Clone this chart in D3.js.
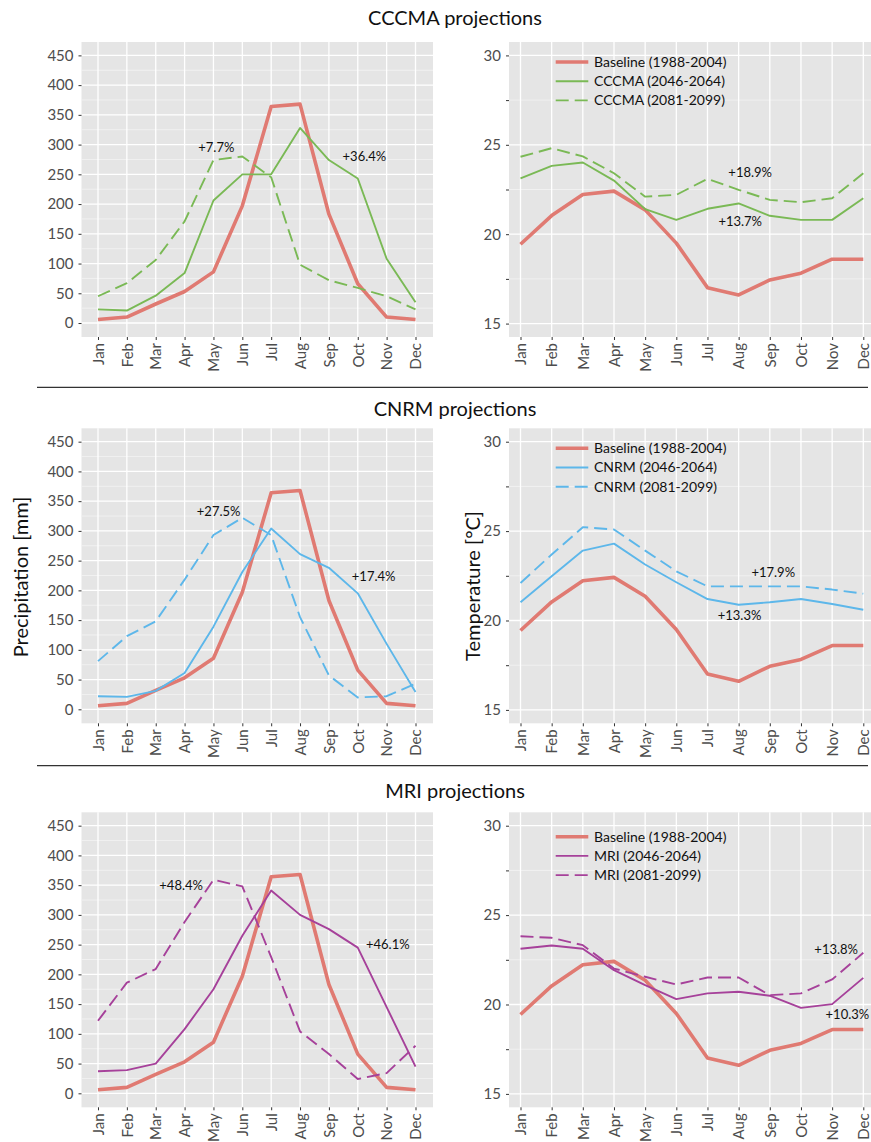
<!DOCTYPE html>
<html>
<head>
<meta charset="utf-8">
<script src="https://cdn.jsdelivr.net/npm/d3@7"></script>
<style>
  body { margin: 0; background: #fff; }
  text { font-family: Lato, "Open Sans", sans-serif; }
</style>
</head>
<body>
<script>
// ---- data ----
var months = ["Jan", "Feb", "Mar", "Apr", "May", "Jun", "Jul", "Aug", "Sep", "Oct", "Nov", "Dec"];

var precipBaseline = [6, 10, 32, 53, 86, 197, 364, 368, 183, 66, 10, 6];
var tempBaseline = [19.44, 21.04, 22.22, 22.41, 21.36, 19.5, 17.01, 16.6, 17.44, 17.82, 18.6, 18.6];

var precipCccmaMid = [23, 21, 46, 84, 206, 250, 250, 328, 274, 243, 108, 35];
var precipCccmaEnd = [45, 67, 106, 171, 274, 280, 245, 98, 72, 59, 45, 23];
var tempCccmaMid = [23.12, 23.82, 24.01, 23.0, 21.4, 20.8, 21.42, 21.72, 21.03, 20.8, 20.8, 22.01];
var tempCccmaEnd = [24.33, 24.81, 24.35, 23.41, 22.1, 22.2, 23.1, 22.48, 21.92, 21.79, 22.01, 23.41];

var precipCnrmMid = [22, 21, 31, 61, 139, 231, 304, 261, 238, 195, 110, 29];
var precipCnrmEnd = [81, 123, 148, 218, 293, 322, 293, 155, 57, 20, 22, 43];
var tempCnrmMid = [21.02, 22.47, 23.91, 24.3, 23.13, 22.14, 21.2, 20.88, 21.02, 21.2, 20.92, 20.6];
var tempCnrmEnd = [22.1, 23.69, 25.22, 25.09, 23.91, 22.75, 21.91, 21.91, 21.91, 21.91, 21.73, 21.5];

var precipMriMid = [37, 39, 50, 108, 175, 265, 341, 300, 276, 245, 145, 45];
var precipMriEnd = [122, 186, 209, 288, 359, 348, 229, 104, 66, 24, 34, 80];
var tempMriMid = [23.12, 23.3, 23.12, 21.92, 21.08, 20.3, 20.62, 20.71, 20.49, 19.81, 20.02, 21.49];
var tempMriEnd = [23.82, 23.73, 23.32, 22.01, 21.55, 21.12, 21.51, 21.51, 20.52, 20.62, 21.4, 22.89];

// change labels: [month index (fractional), value, text]
var notesCccmaPrecip = [[4.1, 295, "+7.7%"], [9.23, 280, "+36.4%"]];
var notesCccmaTemp = [[7.37, 23.45, "+18.9%"], [7.05, 20.71, "+13.7%"]];
var notesCnrmPrecip = [[4.18, 333, "+27.5%"], [9.55, 223, "+17.4%"]];
var notesCnrmTemp = [[8.11, 22.71, "+17.9%"], [7.03, 20.27, "+13.3%"]];
var notesMriPrecip = [[2.88, 349, "+48.4%"], [10.04, 250, "+46.1%"]];
var notesMriTemp = [[10.13, 23.1, "+13.8%"], [10.49, 19.44, "+10.3%"]];

var precipTicks = [0, 50, 100, 150, 200, 250, 300, 350, 400, 450];
var precipMinor = [25, 75, 125, 175, 225, 275, 325, 375, 425];
var tempTicks = [15, 17.5, 20, 22.5, 25, 27.5, 30];
var tempMajor = [15, 20, 25, 30];

var models = ["CCCMA", "CNRM", "MRI"];
var modelColors = ["#7ab955", "#5db7ea", "#a6419a"];

var W = 871, H = 1142;
var baseColor = "#e07a72";

var svg = d3.select("body").append("svg")
    .attr("width", W)
    .attr("height", H);

var rows = [
    { model: 0, titleY: 25, top: 42, pMid: precipCccmaMid, pEnd: precipCccmaEnd, tMid: tempCccmaMid, tEnd: tempCccmaEnd, pNotes: notesCccmaPrecip, tNotes: notesCccmaTemp, legY: 20 },
    { model: 1, titleY: 416, top: 428.3, pMid: precipCnrmMid, pEnd: precipCnrmEnd, tMid: tempCnrmMid, tEnd: tempCnrmEnd, pNotes: notesCnrmPrecip, tNotes: notesCnrmTemp, legY: 20 },
    { model: 2, titleY: 798, top: 812.3, pMid: precipMriMid, pEnd: precipMriEnd, tMid: tempMriMid, tEnd: tempMriEnd, pNotes: notesMriPrecip, tNotes: notesMriTemp, legY: 24.4 }
];

var panelH = 295;
var clipN = 0;

function drawPanel(cfg) {
    var g = svg.append("g");
    var x = d3.scalePoint().domain(months).range([cfg.mx0, cfg.mx1]);
    var xNum = d3.scaleLinear().domain([0, 11]).range([cfg.mx0, cfg.mx1]);
    var y = d3.scaleLinear().domain(cfg.yDomain).range([cfg.top + panelH, cfg.top]);

    g.append("rect")
        .attr("x", cfg.x0).attr("y", cfg.top)
        .attr("width", cfg.x1 - cfg.x0).attr("height", panelH)
        .attr("fill", "#e5e5e5");

    g.selectAll("line.minor").data(cfg.minor).enter().append("line")
        .attr("x1", cfg.x0).attr("x2", cfg.x1)
        .attr("y1", function(d) { return y(d); }).attr("y2", function(d) { return y(d); })
        .attr("stroke", "#f4f4f4").attr("stroke-width", 0.8);

    g.selectAll("line.major").data(cfg.major).enter().append("line")
        .attr("x1", cfg.x0).attr("x2", cfg.x1)
        .attr("y1", function(d) { return y(d); }).attr("y2", function(d) { return y(d); })
        .attr("stroke", "#fff").attr("stroke-width", 1.3);

    g.selectAll("line.vert").data(months).enter().append("line")
        .attr("x1", function(d) { return x(d); }).attr("x2", function(d) { return x(d); })
        .attr("y1", cfg.top).attr("y2", cfg.top + panelH)
        .attr("stroke", "#fff").attr("stroke-width", 1.3);

    var clipId = "clip" + (clipN++);
    svg.append("clipPath").attr("id", clipId).append("rect")
        .attr("x", cfg.x0).attr("y", cfg.top)
        .attr("width", cfg.x1 - cfg.x0).attr("height", panelH);

    var line = d3.line()
        .x(function(d, i) { return x(months[i]); })
        .y(function(d) { return y(d); });

    var lg = g.append("g").attr("clip-path", "url(#" + clipId + ")");
    cfg.series.forEach(function(s) {
        lg.append("path")
            .attr("d", line(s.values))
            .attr("fill", "none")
            .attr("stroke", s.color)
            .attr("stroke-width", s.width)
            .attr("stroke-dasharray", s.dash || null)
            .attr("stroke-linejoin", "round");
    });

    // y axis
    var ya = g.append("g")
        .attr("transform", "translate(" + cfg.x0 + ",0)")
        .call(d3.axisLeft(y).tickValues(cfg.ticks).tickSize(3).tickPadding(5)
            .tickFormat(function(d) { return cfg.showLabel(d) ? d : ""; }));
    ya.select(".domain").remove();
    ya.selectAll(".tick line").attr("stroke", "#333");
    ya.selectAll(".tick text").attr("fill", "#4d4d4d").style("font-size", "15px")
        .style("font-family", "Lato, 'Open Sans', sans-serif");

    // x axis
    var xa = g.append("g")
        .attr("transform", "translate(0," + (cfg.top + panelH) + ")")
        .call(d3.axisBottom(x).tickSize(3).tickPadding(3));
    xa.select(".domain").remove();
    xa.selectAll(".tick line").attr("stroke", "#333");
    xa.selectAll(".tick text")
        .attr("fill", "#4d4d4d").style("font-size", "15px")
        .style("font-family", "Lato, 'Open Sans', sans-serif")
        .attr("transform", "rotate(-90)")
        .attr("text-anchor", "end")
        .attr("x", -6).attr("y", 0).attr("dy", "0.35em");

    // change annotations
    g.selectAll("text.note").data(cfg.notes).enter().append("text")
        .attr("x", function(d) { return xNum(d[0]); })
        .attr("y", function(d) { return y(d[1]); })
        .attr("dy", "0.35em")
        .attr("text-anchor", "middle")
        .style("font-size", "13px")
        .attr("fill", "#111")
        .text(function(d) { return d[2]; });

    if (cfg.legend) {
        var leg = g.append("g");
        cfg.series.forEach(function(s, i) {
            var ly = cfg.top + cfg.legY + i * 19.2;
            leg.append("line")
                .attr("x1", 555.7).attr("x2", 588.3)
                .attr("y1", ly).attr("y2", ly)
                .attr("stroke", s.color).attr("stroke-width", s.width)
                .attr("stroke-dasharray", s.dash || null);
            leg.append("text")
                .attr("x", 594).attr("y", ly).attr("dy", "0.35em")
                .style("font-size", "14px").attr("fill", "#111")
                .text(s.label);
        });
    }
}

rows.forEach(function(r) {
    var name = models[r.model];
    var col = modelColors[r.model];

    svg.append("text")
        .attr("x", 455).attr("y", r.titleY)
        .attr("text-anchor", "middle")
        .style("font-size", "20px").attr("fill", "#111")
        .text(name + " projections");

    drawPanel({
        x0: 81.5, x1: 433, mx0: 98, mx1: 415.5, top: r.top,
        yDomain: [-23.5, 472.5], ticks: precipTicks, major: precipTicks, minor: precipMinor,
        showLabel: function() { return true; },
        notes: r.pNotes,
        series: [
            { values: precipBaseline, color: baseColor, width: 3.6 },
            { values: r.pMid, color: col, width: 1.9 },
            { values: r.pEnd, color: col, width: 1.9, dash: "13,6" }
        ]
    });

    drawPanel({
        x0: 509, x1: 882, mx0: 520.5, mx1: 863.3, top: r.top,
        yDomain: [14.25, 30.75], ticks: tempTicks, major: tempMajor, minor: [17.5, 22.5, 27.5],
        showLabel: function(d) { return d % 5 === 0; },
        notes: r.tNotes, legend: true, legY: r.legY,
        series: [
            { values: tempBaseline, color: baseColor, width: 3.6, label: "Baseline (1988-2004)" },
            { values: r.tMid, color: col, width: 1.9, label: name + " (2046-2064)" },
            { values: r.tEnd, color: col, width: 1.9, dash: "13,6", label: name + " (2081-2099)" }
        ]
    });
});

// separators between model rows
svg.selectAll("line.sep").data([387.3, 765.7]).enter().append("line")
    .attr("x1", 37).attr("x2", 868)
    .attr("y1", function(d) { return d; }).attr("y2", function(d) { return d; })
    .attr("stroke", "#333").attr("stroke-width", 1.3);

// axis titles
svg.append("text")
    .attr("transform", "translate(28,577) rotate(-90)")
    .attr("text-anchor", "middle")
    .style("font-size", "20px").attr("fill", "#111")
    .text("Precipitation [mm]");

svg.append("text")
    .attr("transform", "translate(480,586) rotate(-90)")
    .attr("text-anchor", "middle")
    .style("font-size", "20px").attr("fill", "#111")
    .text("Temperature [°C]");
</script>
</body>
</html>
